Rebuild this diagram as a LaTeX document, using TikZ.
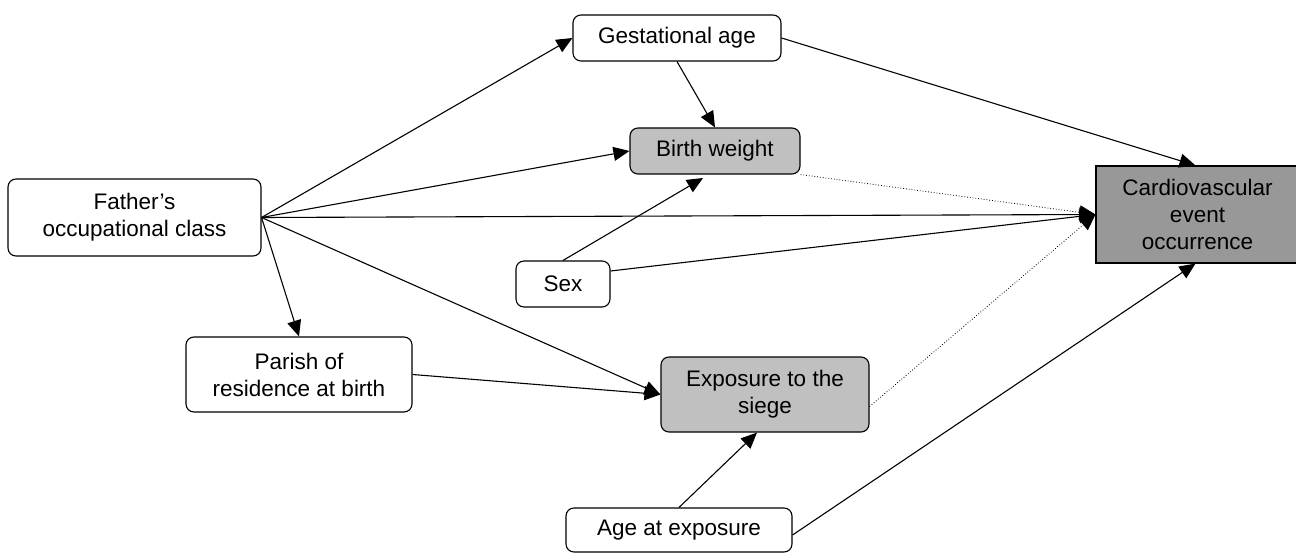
\documentclass[tikz,border=0pt]{standalone}
\usepackage{fontspec}
\setmainfont{Liberation Sans}
\usetikzlibrary{arrows.meta}
\definecolor{bwgray}{HTML}{C0C0C0}
\definecolor{cvgray}{HTML}{989898}
\begin{document}
\begin{tikzpicture}[x=1pt,y=-1pt,
  box/.style={draw, line width=1.1pt, rounded corners=8pt, align=center, inner sep=0pt, fill=white,
    font=\fontsize{22.5}{27}\selectfont},
  lightbox/.style={box, fill=bwgray},
  darkbox/.style={box, rounded corners=0pt, fill=cvgray},
  arr/.style={line width=1.1pt, -{Triangle[length=16pt,width=14pt]}},
  dotarr/.style={line width=0.8pt, dotted, -{Triangle[length=16pt,width=14pt]}}]
\useasboundingbox (0,0) rectangle (1296,553);

\node[box, minimum width=208pt, minimum height=46pt] (ga) at (677,38) {Gestational age};
\node[lightbox, minimum width=170pt, minimum height=46pt] (bw) at (715,151) {Birth weight};
\node[box, minimum width=253pt, minimum height=77pt] (fo) at (134.5,217.5) {Father’s\\occupational class};
\node[darkbox, minimum width=203pt, minimum height=97pt] (cv) at (1197.5,214.5) {Cardiovascular\\event\\occurrence};
\node[box, minimum width=94pt, minimum height=46pt] (sex) at (563,284) {Sex};
\node[box, minimum width=226pt, minimum height=75pt] (pa) at (299,374.5) {Parish of\\residence at birth};
\node[lightbox, minimum width=208pt, minimum height=75pt] (ex) at (765,394.5) {Exposure to the\\siege};
\node[box, minimum width=226pt, minimum height=44pt] (age) at (679,530) {Age at exposure};

\coordinate (sexbw) at (703,178);

\draw[arr] (fo.east) -- (ga.west);
\draw[arr] (fo.east) -- (bw.west);
\draw[arr] (fo.east) -- (cv.west);
\draw[arr] (fo.east) -- (ex.west);
\draw[arr] (fo.east) -- (pa.north);
\draw[arr] (pa.east) -- (ex.west);
\draw[arr] (ga.south) -- (bw.north);
\draw[arr] (ga.east) -- ([xshift=-2pt]cv.north);
\draw[dotarr] (bw.south east) -- (cv.west);
\draw[arr] (sex.north) -- (sexbw);
\draw[arr] ([yshift=13pt]sex.east) -- (cv.west);
\draw[dotarr] ([yshift=-12pt]ex.east) -- (cv.west);
\draw[arr] (age.north) -- ([xshift=-8pt]ex.south);
\draw[arr] ([yshift=-5pt]age.east) -- ([xshift=-2pt]cv.south);
\end{tikzpicture}
\end{document}
